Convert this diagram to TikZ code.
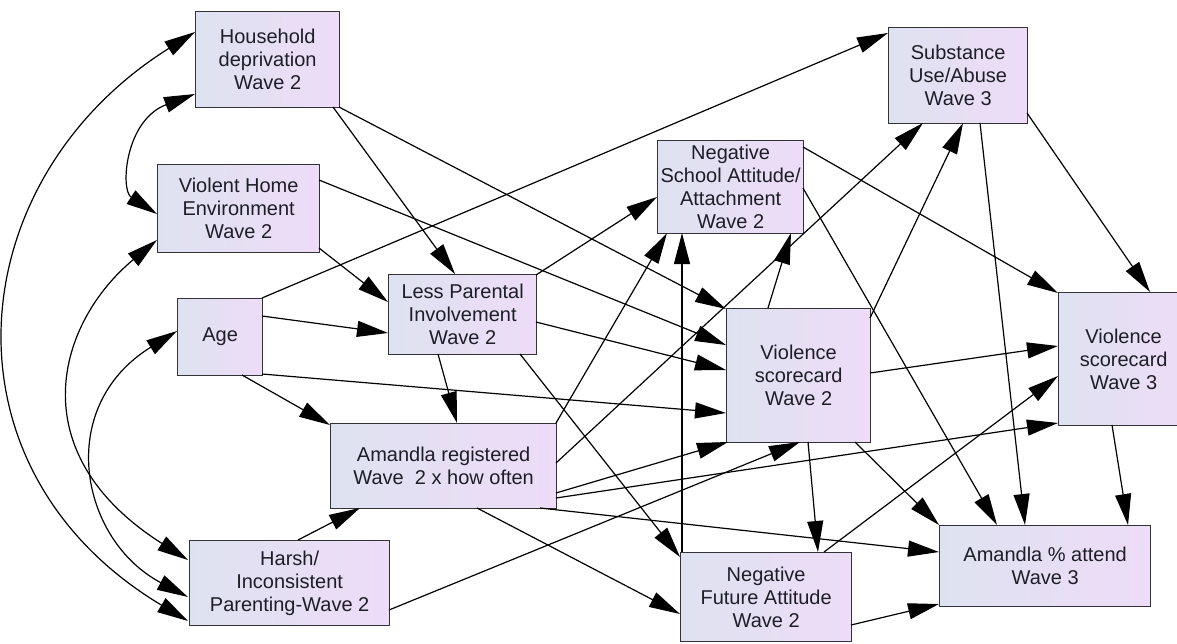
\documentclass[tikz,border=0pt]{standalone}
\usepackage{fontspec}
\setmainfont{Liberation Sans}
\usetikzlibrary{arrows.meta,calc}
\definecolor{boxL}{RGB}{222,226,240}
\definecolor{boxR}{RGB}{238,220,248}
\definecolor{ink}{RGB}{30,30,40}
\definecolor{rim}{RGB}{50,50,55}
\begin{document}
\begin{tikzpicture}[x=1pt,y=-1pt,
  var/.style={draw=rim, line width=1.3pt, left color=boxL, right color=boxR,
    anchor=north west, inner sep=0pt, align=center, text=ink,
    font=\fontsize{20}{23}\selectfont},
  tip/.tip={Triangle[length=31pt,width=16pt]},
  effect/.style={line width=1.2pt, -tip},
  covar/.style={line width=1.2pt, tip-tip}]
\clip (0,0) rectangle (1177,643);
\fill[white] (0,0) rectangle (1177,643);

% variables
\node[var, minimum width=144pt, minimum height=96pt]  (hh)  at (195,11)  {Household\\deprivation\\Wave 2};
\node[var, minimum width=162pt, minimum height=88pt]  (vh)  at (157,164) {Violent Home\\Environment\\Wave 2};
\node[var, minimum width=85pt,  minimum height=77pt]  (age) at (177,298) {Age};
\node[var, minimum width=148pt, minimum height=80pt]  (lp)  at (388,274) {Less Parental\\Involvement\\Wave 2};
\node[var, minimum width=226pt, minimum height=85pt]  (ar)  at (330,423) {Amandla registered\\Wave\ \ 2 x how often};
\node[var, minimum width=200pt, minimum height=85pt]  (hp)  at (189,540) {Harsh/\\Inconsistent\\Parenting-Wave 2};
\node[var, minimum width=146pt, minimum height=93pt]  (ns)  at (657,140) {Negative\\School Attitude/\\Attachment\\Wave 2};
\node[var, minimum width=139pt, minimum height=96pt]  (su)  at (888,27)  {Substance\\Use/Abuse\\Wave 3};
\node[var, minimum width=144pt, minimum height=134pt] (vs2) at (726,308) {Violence\\scorecard\\Wave 2};
\node[var, minimum width=130pt, minimum height=133pt] (vs3) at (1058,292) {Violence\\scorecard\\Wave 3};
\node[var, minimum width=171pt, minimum height=89pt]  (nf)  at (680,552) {Negative\\Future Attitude\\Wave 2};
\node[var, minimum width=211pt, minimum height=81pt]  (aa)  at (939,525) {Amandla \% attend\\Wave 3};

% covariances between exogenous variables
\draw[covar] ($(hh.north west)+(0,21)$) .. controls (-41,180) and (-66,469) .. ($(hp.north west)+(-1,81)$);
\draw[covar] ($(hh.north west)+(0,83)$) .. controls (125,120) and (120,190) .. ($(vh.north west)+(0,50)$);
\draw[covar] ($(vh.north west)+(0,76)$) .. controls (58,322) and (18,452) .. ($(hp.north west)+(-1,20)$);
\draw[covar] ($(age.north west)+(0,33)$) .. controls (54,407) and (80,540) .. ($(hp.north west)+(-1,57)$);

% regression paths
\draw[effect] ($(hh.north west)+(138,96)$)  -- ($(lp.north west)+(67,0)$);
\draw[effect] ($(hh.north west)+(144,96)$)  -- ($(vs2.north west)+(0,1)$);
\draw[effect] ($(vh.north west)+(162,84)$)  -- ($(lp.north west)+(0,28)$);
\draw[effect] ($(vh.north west)+(162,16)$)  -- ($(vs2.north west)+(0,37)$);
\draw[effect] ($(age.north west)+(85,0)$)   -- ($(su.north west)+(0,6)$);
\draw[effect] ($(age.north west)+(85,18)$)  -- ($(lp.north west)+(0,59)$);
\draw[effect] ($(age.north west)+(85,76)$)  -- ($(vs2.north west)+(0,105)$);
\draw[effect] ($(age.north west)+(65,77)$)  -- ($(ar.north west)+(0,2)$);
\draw[effect] ($(lp.north west)+(148,1)$)   -- ($(ns.north west)+(0,57)$);
\draw[effect] ($(lp.north west)+(148,48)$)  -- ($(vs2.north west)+(0,62)$);
\draw[effect] ($(lp.north west)+(50,80)$)   -- ($(ar.north west)+(127,0)$);
\draw[effect] ($(lp.north west)+(132,80)$)  -- ($(nf.north west)+(0,5)$);
\draw[effect] ($(ar.north west)+(226,0)$)   -- ($(ns.north west)+(10,93)$);
\draw[effect] ($(ar.north west)+(226,40)$)  -- ($(su.north west)+(35,96)$);
\draw[effect] ($(ar.north west)+(226,70)$)  -- ($(vs2.north west)+(2,134)$);
\draw[effect] ($(ar.north west)+(226,75)$)  -- ($(vs3.north west)+(0,131)$);
\draw[effect] ($(ar.north west)+(210,85)$)  -- ($(aa.north west)+(0,27)$);
\draw[effect] ($(ar.north west)+(147,85)$)  -- ($(nf.north west)+(0,62)$);
\draw[effect] ($(hp.north west)+(109,0)$)   -- ($(ar.north west)+(30,85)$);
\draw[effect] ($(hp.north west)+(200,70)$)  -- ($(vs2.north west)+(74,134)$);
\draw[effect] ($(ns.north west)+(146,7)$)   -- ($(vs3.north west)+(0,1)$);
\draw[effect] ($(ns.north west)+(146,48)$)  -- ($(aa.north west)+(58,0)$);
\draw[effect] ($(su.north west)+(139,86)$)  -- ($(vs3.north west)+(92,0)$);
\draw[effect] ($(su.north west)+(92,96)$)   -- ($(aa.north west)+(86,0)$);
\draw[effect] ($(vs2.north west)+(42,0)$)   -- ($(ns.north west)+(134,93)$);
\draw[effect] ($(vs2.north west)+(144,10)$) -- ($(su.north west)+(75,96)$);
\draw[effect] ($(vs2.north west)+(144,65)$) -- ($(vs3.north west)+(0,54)$);
\draw[effect] ($(vs2.north west)+(82,134)$) -- ($(nf.north west)+(138,0)$);
\draw[effect] ($(vs2.north west)+(129,134)$) -- ($(aa.north west)+(0,0)$);
\draw[effect] ($(nf.north west)+(2,0)$)     -- ($(ns.north west)+(25,93)$);
\draw[effect] ($(nf.north west)+(144,0)$)   -- ($(vs3.north west)+(0,84)$);
\draw[effect] ($(nf.north west)+(171,73)$)  -- ($(aa.north west)+(0,79)$);
\draw[effect] ($(vs3.north west)+(54,133)$) -- ($(aa.north west)+(189,0)$);
\end{tikzpicture}
\end{document}
